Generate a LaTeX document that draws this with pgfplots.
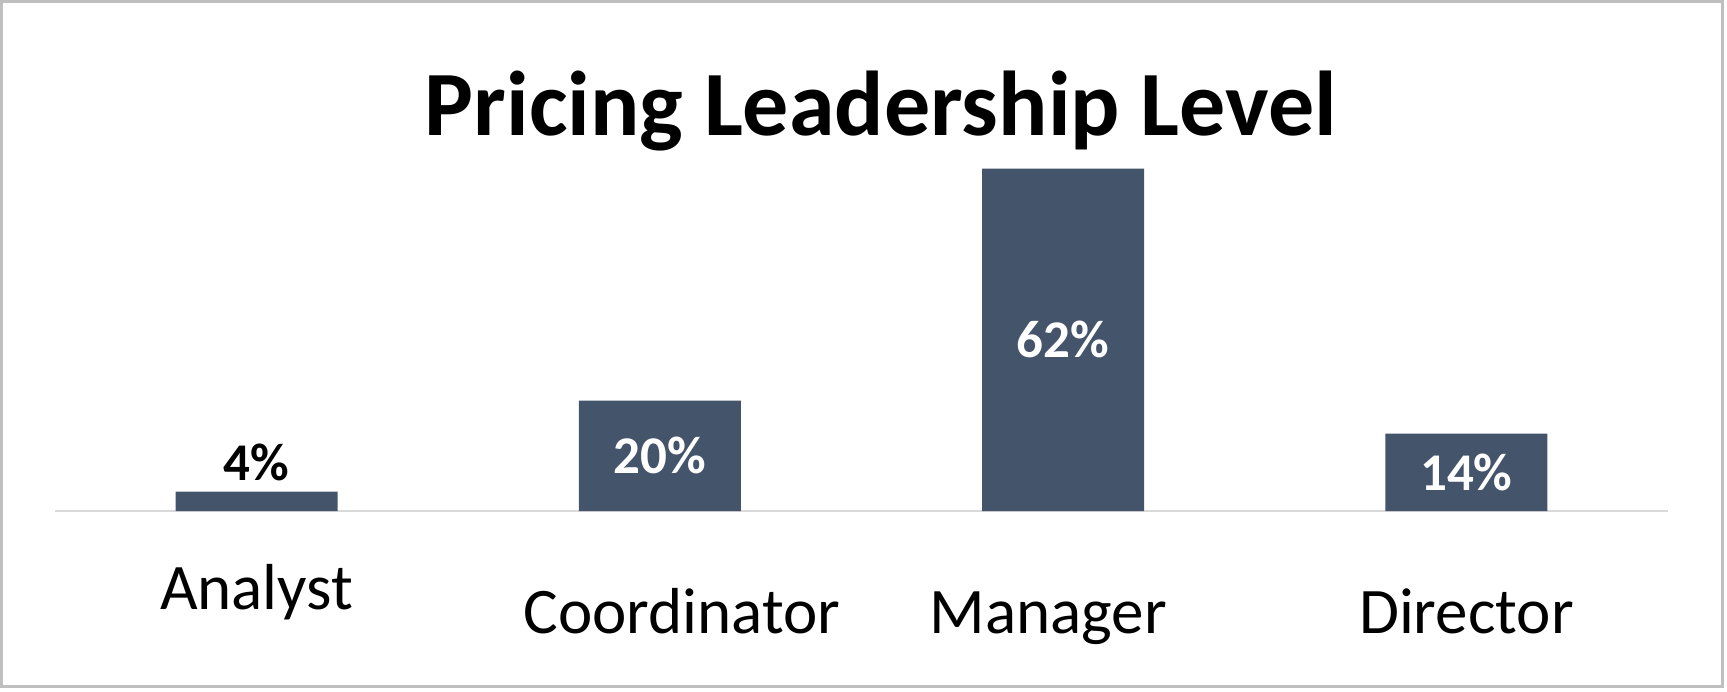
\documentclass[border=0pt]{standalone}
\usepackage{pgfplots}
\pgfplotsset{compat=1.18}
\usepackage{fontspec}
\setmainfont{Carlito}
\definecolor{barblue}{HTML}{44546A}
\definecolor{framegray}{HTML}{BFBFBF}
\definecolor{basegray}{HTML}{D9D9D9}
\begin{document}
\begin{tikzpicture}
\useasboundingbox (0,0) rectangle (863.5pt,345.5pt);
\draw[framegray, line width=1.5pt] (0.75pt,2.25pt) rectangle (861pt,344.75pt);
\node[anchor=base, font=\fontsize{46}{50}\selectfont\bfseries] at (440.5pt,277.75pt) {Pricing Leadership Level};
\begin{axis}[
  at={(27.5pt,90pt)}, anchor=south west,
  scale only axis, width=806.5pt, height=171.25pt,
  xmin=-0.5, xmax=3.5, ymin=0, ymax=62,
  axis x line=bottom, axis y line=none,
  x axis line style={-, draw=basegray, line width=1.3pt},
  xtick={0,1,2,3}, ytick=\empty, major tick length=0pt,
  xticklabels={\raisebox{12pt}{Analyst}, \hspace*{22pt}Coordinator, Manager\hspace*{15pt}, Director},
  xticklabel style={anchor=base, yshift=-61pt, font=\fontsize{32.5}{36}\selectfont},
  clip=false,
]
\addplot[ybar, bar width=81pt, fill=barblue, draw=none] coordinates {(0,3.5) (1,20) (2,62) (3,14)};
\addplot[only marks, mark=none, nodes near coords, point meta=explicit symbolic,
  every node near coord/.style={anchor=south, yshift=2pt, font=\fontsize{26.5}{30}\selectfont\bfseries, text=black}]
  coordinates {(0,3.5) [4\%]};
\addplot[only marks, mark=none, nodes near coords, point meta=explicit symbolic,
  every node near coord/.style={anchor=center, font=\fontsize{26.5}{30}\selectfont\bfseries, text=white}]
  coordinates {(1,10) [20\%] (2,31) [62\%] (3,7) [14\%]};
\end{axis}
\end{tikzpicture}
\end{document}
